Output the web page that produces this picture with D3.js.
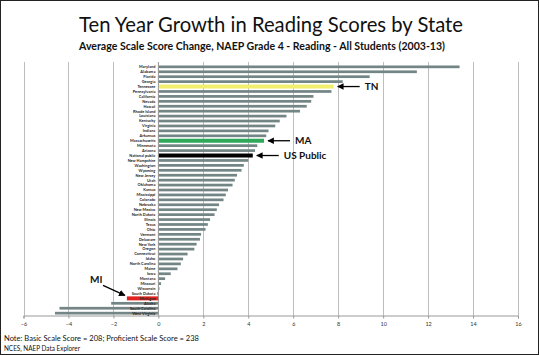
<!DOCTYPE html>
<html><head><meta charset="utf-8">
<script src="https://cdn.jsdelivr.net/npm/d3@7"></script>
<style>body{margin:0;background:#fff}svg{display:block}</style>
</head><body>
<script>
const states = ["Maryland","Alabama","Florida","Georgia","Tennessee","Pennsylvania","California","Nevada","Hawaii","Rhode Island","Louisiana","Kentucky","Virginia","Indiana","Arkansas","Massachusetts","Minnesota","Arizona","National public","New Hampshire","Washington","Wyoming","New Jersey","Utah","Oklahoma","Kansas","Mississippi","Colorado","Nebraska","New Mexico","North Dakota","Illinois","Texas","Ohio","Vermont","Delaware","New York","Oregon","Connecticut","Idaho","North Carolina","Maine","Iowa","Montana","Missouri","Wisconsin","South Dakota","Michigan","Alaska","South Carolina","West Virginia"];
const changes = [13.4,11.5,9.4,8.2,7.8,7.7,6.9,6.8,6.6,6.3,5.7,5.4,5.2,4.9,4.8,4.7,4.4,4.3,4.2,4.0,3.8,3.7,3.5,3.4,3.3,3.1,3.0,2.9,2.7,2.6,2.5,2.3,2.2,2.1,1.9,1.85,1.7,1.6,1.3,1.1,1.0,0.85,0.55,0.3,0.12,0.05,-0.05,-1.4,-2.1,-4.4,-4.6];
const xTicks = [-6,-4,-2,0,2,4,6,8,10,12,14,16];
const highlights = {"Tennessee":"#f2ee6e","Massachusetts":"#2fa85a","National public":"#000000","Michigan":"#e0231f"};
const annotations = [
  {state:"Tennessee", text:"TN"},
  {state:"Massachusetts", text:"MA"},
  {state:"National public", text:"US Public"}
];

const W=539,H=355;
const svg=d3.select("body").append("svg").attr("width",W).attr("height",H);
svg.append("rect").attr("x",0.5).attr("y",0.5).attr("width",W-1).attr("height",H-1).attr("fill","#fff").attr("stroke","#222");

const x=d3.scaleLinear().domain([-6,16]).range([23.5,518]);
const y=d3.scaleBand().domain(states).range([64.5,315.5]).paddingInner(0.45).paddingOuter(0.2);

// title
svg.append("text").attr("x",271).attr("y",32).attr("text-anchor","middle")
  .attr("font-family","Lato, 'Open Sans', sans-serif").attr("font-size",22).attr("fill","#111")
  .attr("textLength",384).attr("lengthAdjust","spacingAndGlyphs")
  .text("Ten Year Growth in Reading Scores by State");
svg.append("text").attr("x",262).attr("y",50).attr("text-anchor","middle")
  .attr("font-family","Lato, 'Open Sans', sans-serif").attr("font-weight","bold").attr("font-size",10.5).attr("fill","#111")
  .attr("textLength",366).attr("lengthAdjust","spacingAndGlyphs")
  .text("Average Scale Score Change, NAEP Grade 4 - Reading - All Students (2003-13)");

// gridlines
svg.append("g").selectAll("line").data(xTicks).join("line")
  .attr("x1",d=>Math.round(x(d))+0.5).attr("x2",d=>Math.round(x(d))+0.5)
  .attr("y1",62).attr("y2",315.5).attr("stroke","#bdbdbd").attr("stroke-width",1);

// x axis
const xa=svg.append("g").attr("transform","translate(0,315.5)")
  .call(d3.axisBottom(x).tickValues(xTicks).tickSize(3).tickPadding(4).tickFormat(d3.format("d")));
xa.select(".domain").attr("stroke","#999");
xa.selectAll(".tick line").attr("stroke","#999");
xa.selectAll("text").attr("font-family","Lato, sans-serif").attr("font-size",5.5).attr("fill","#333");

// bars
const bw=y.bandwidth();
svg.append("g").selectAll("rect").data(states).join("rect")
  .attr("x",(d,i)=>x(Math.min(0,changes[i])))
  .attr("width",(d,i)=>Math.abs(x(changes[i])-x(0)))
  .attr("y",d=>{const c=y(d)+bw/2; const h=highlights[d]?4:bw; return c-h/2;})
  .attr("height",d=>highlights[d]?4:bw)
  .attr("fill",d=>highlights[d]||"#738585");

// zero axis
svg.append("line").attr("x1",x(0)).attr("x2",x(0)).attr("y1",62).attr("y2",315.5).attr("stroke","#999");

// category labels
svg.append("g").selectAll("text").data(states).join("text")
  .attr("x",x(0)-3).attr("y",d=>y(d)+bw/2).attr("dy","0.35em").attr("text-anchor","end")
  .attr("font-family","Lato, sans-serif").attr("font-size",3.9).attr("font-weight","bold").attr("fill","#222")
  .text(d=>d);

// arrows
const defs=svg.append("defs");
defs.append("marker").attr("id","ah").attr("viewBox","0 0 10 10").attr("refX",9).attr("refY",5)
  .attr("markerWidth",5).attr("markerHeight",5).attr("orient","auto-start-reverse")
  .append("path").attr("d","M0,0L10,5L0,10z").attr("fill","#000");

annotations.forEach(a=>{
  const i=states.indexOf(a.state);
  const cy=y(a.state)+bw/2;
  const tip=x(changes[i])+4;
  svg.append("line").attr("x1",tip+22).attr("x2",tip).attr("y1",cy).attr("y2",cy)
    .attr("stroke","#000").attr("stroke-width",1.3).attr("marker-end","url(#ah)");
  svg.append("text").attr("x",tip+27).attr("y",cy).attr("dy","0.36em")
    .attr("font-family","Lato, 'Open Sans', sans-serif").attr("font-weight","bold").attr("font-size",10).attr("fill","#111")
    .text(a.text);
});
// MI
{
  const cy=y("Michigan")+bw/2;
  const sx=x(changes[states.indexOf("Michigan")]);
  svg.append("line").attr("x1",103).attr("y1",cy-13).attr("x2",sx-2).attr("y2",cy-3)
    .attr("stroke","#000").attr("stroke-width",1.3).attr("marker-end","url(#ah)");
  svg.append("text").attr("x",90).attr("y",cy-15)
    .attr("font-family","Lato, 'Open Sans', sans-serif").attr("font-weight","bold").attr("font-size",10).attr("fill","#111")
    .text("MI");
}

// notes
svg.append("text").attr("x",4).attr("y",341).attr("font-family","Lato, 'Open Sans', sans-serif").attr("font-size",7).attr("fill","#111")
  .attr("textLength",195).attr("lengthAdjust","spacingAndGlyphs")
  .text("Note: Basic Scale Score = 208; Proficient Scale Score = 238");
svg.append("text").attr("x",4).attr("y",351).attr("font-family","Lato, 'Open Sans', sans-serif").attr("font-size",7).attr("fill","#111")
  .attr("textLength",76).attr("lengthAdjust","spacingAndGlyphs")
  .text("NCES, NAEP Data Explorer");
</script>
</body></html>
